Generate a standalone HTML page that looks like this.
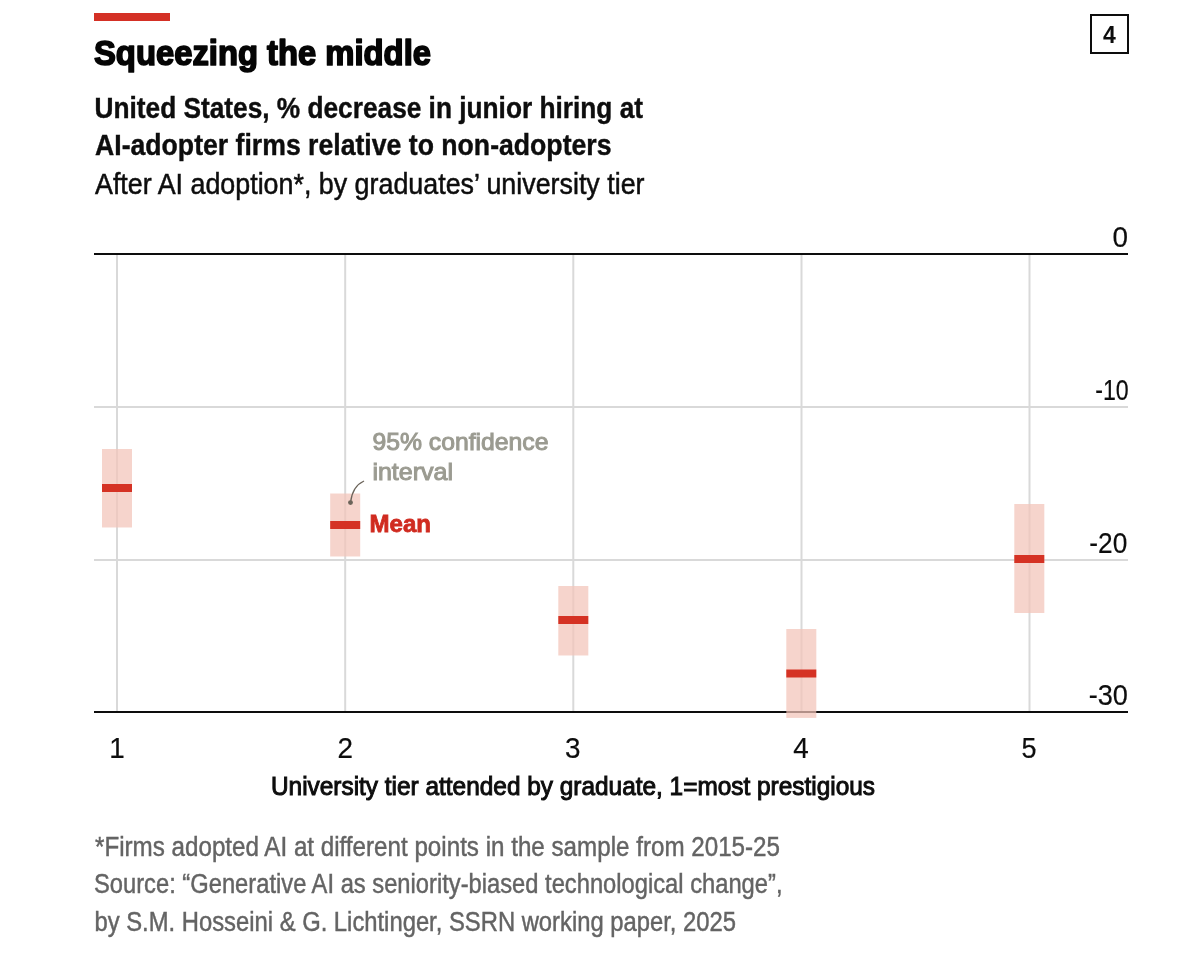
<!DOCTYPE html>
<html lang="en">
<head>
<meta charset="utf-8">
<title>Squeezing the middle</title>
<style>
  html, body { margin: 0; padding: 0; background: #ffffff; }
  body { width: 1200px; height: 965px; overflow: hidden; position: relative; }
  svg { display: block; position: absolute; left: 0; top: 0; will-change: transform; }
  text { font-family: "Liberation Sans", sans-serif; }
  .b { font-weight: 700; }
  .grid { stroke: #d9d9d9; stroke-width: 2; }
  .axis { stroke: #0d0d0d; stroke-width: 2; }
  .ci { fill: #f3c4b8; opacity: 0.72; }
  .mean { fill: #d53224; }
  .ylab { font-size: 30px; fill: #0d0d0d; stroke: #0d0d0d; stroke-width: 0.2px; text-anchor: end; }
  .xlab { font-size: 30px; fill: #0d0d0d; stroke: #0d0d0d; stroke-width: 0.2px; text-anchor: middle; }
  .foot { font-size: 27px; fill: #646464; stroke: #646464; stroke-width: 0.45px; }
</style>
</head>
<body>
<svg width="1200" height="965" viewBox="0 0 1200 965">
  <rect x="0" y="0" width="1200" height="965" fill="#ffffff"/>

  <!-- header -->
  <rect x="94" y="13" width="76" height="8" fill="#d43025"/>
  <text class="b" x="94" y="65" font-size="35" fill="#050505" stroke="#050505" stroke-width="1.7" stroke-linejoin="round" textLength="337" lengthAdjust="spacingAndGlyphs">Squeezing the middle</text>
  <text class="b" x="94.5" y="118.2" font-size="29" fill="#0d0d0d" stroke="#0d0d0d" stroke-width="0.4" textLength="548.5" lengthAdjust="spacingAndGlyphs">United States, % decrease in junior hiring at</text>
  <text class="b" x="95" y="155.3" font-size="29" fill="#0d0d0d" stroke="#0d0d0d" stroke-width="0.4" textLength="516.5" lengthAdjust="spacingAndGlyphs">AI-adopter firms relative to non-adopters</text>
  <text x="95" y="193.7" font-size="29" fill="#0d0d0d" stroke="#0d0d0d" stroke-width="0.5" textLength="549.5" lengthAdjust="spacingAndGlyphs">After AI adoption*, by graduates’ university tier</text>

  <!-- number box -->
  <rect x="1091" y="15" width="37" height="38" fill="#ffffff" stroke="#0d0d0d" stroke-width="2"/>
  <text class="b" x="1109.3" y="43" font-size="23" fill="#0d0d0d" text-anchor="middle">4</text>

  <!-- grid -->
  <line class="grid" x1="117" y1="255" x2="117" y2="712"/>
  <line class="grid" x1="345.2" y1="255" x2="345.2" y2="712"/>
  <line class="grid" x1="573.3" y1="255" x2="573.3" y2="712"/>
  <line class="grid" x1="801.5" y1="255" x2="801.5" y2="712"/>
  <line class="grid" x1="1029.5" y1="255" x2="1029.5" y2="712"/>
  <line class="grid" x1="94" y1="407" x2="1128" y2="407"/>
  <line class="grid" x1="94" y1="560" x2="1128" y2="560"/>
  <line class="axis" x1="94" y1="254" x2="1128" y2="254"/>
  <line class="axis" x1="94" y1="712" x2="1128" y2="712"/>

  <!-- y labels -->
  <text class="ylab" x="1128" y="247.3" textLength="15.5" lengthAdjust="spacingAndGlyphs">0</text>
  <text class="ylab" x="1128.7" y="400.3" textLength="33.5" lengthAdjust="spacingAndGlyphs">-10</text>
  <text class="ylab" x="1127.3" y="552.8" textLength="38" lengthAdjust="spacingAndGlyphs">-20</text>
  <text class="ylab" x="1127.9" y="705.3" textLength="39.2" lengthAdjust="spacingAndGlyphs">-30</text>

  <!-- confidence intervals + means -->
  <rect class="ci" x="102" y="449" width="30" height="78.5"/>
  <rect class="mean" x="102" y="484" width="30" height="8"/>

  <rect class="ci" x="330.2" y="493.5" width="30" height="63"/>
  <rect class="mean" x="330.2" y="521" width="30" height="8"/>

  <rect class="ci" x="558.3" y="586" width="30" height="69.5"/>
  <rect class="mean" x="558.3" y="616" width="30" height="8"/>

  <rect class="ci" x="786.3" y="629" width="30" height="88.9"/>
  <rect class="mean" x="786.3" y="669.5" width="30" height="8"/>

  <rect class="ci" x="1014.3" y="504" width="30" height="109"/>
  <rect class="mean" x="1014.3" y="555" width="30" height="8"/>

  <!-- annotation -->
  <path d="M350.5 502.6 C351.6 493 355.5 484.8 363.6 481.2" fill="none" stroke="#6b6359" stroke-width="1.25" stroke-linecap="round"/>
  <circle cx="350.5" cy="502.6" r="2.45" fill="#6b6359"/>
  <text x="372.5" y="449.6" font-size="24" fill="#9b9b91" stroke="#9b9b91" stroke-width="1" textLength="176" lengthAdjust="spacingAndGlyphs">95% confidence</text>
  <text x="372.4" y="480.3" font-size="24" fill="#9b9b91" stroke="#9b9b91" stroke-width="1" textLength="80.6" lengthAdjust="spacingAndGlyphs">interval</text>
  <text class="b" x="369.5" y="532.2" font-size="24.5" fill="#d02b20" stroke="#d02b20" stroke-width="0.8" textLength="61.5" lengthAdjust="spacingAndGlyphs">Mean</text>

  <!-- x labels -->
  <text class="xlab" x="117" y="758" textLength="15.5" lengthAdjust="spacingAndGlyphs">1</text>
  <text class="xlab" x="345.2" y="758" textLength="15.5" lengthAdjust="spacingAndGlyphs">2</text>
  <text class="xlab" x="572.7" y="758" textLength="15.5" lengthAdjust="spacingAndGlyphs">3</text>
  <text class="xlab" x="800.9" y="758" textLength="15.5" lengthAdjust="spacingAndGlyphs">4</text>
  <text class="xlab" x="1029.1" y="758" textLength="15" lengthAdjust="spacingAndGlyphs">5</text>
  <text x="271" y="795" font-size="26" fill="#0d0d0d" stroke="#0d0d0d" stroke-width="1" textLength="604" lengthAdjust="spacingAndGlyphs">University tier attended by graduate, 1=most prestigious</text>

  <!-- footnotes -->
  <text class="foot" x="95" y="855.6" textLength="685" lengthAdjust="spacingAndGlyphs">*Firms adopted AI at different points in the sample from 2015-25</text>
  <text class="foot" x="94" y="893" textLength="688.5" lengthAdjust="spacingAndGlyphs">Source: “Generative AI as seniority-biased technological change”,</text>
  <text class="foot" x="94.5" y="930.6" textLength="641.5" lengthAdjust="spacingAndGlyphs">by S.M. Hosseini &amp; G. Lichtinger, SSRN working paper, 2025</text>
</svg>
</body>
</html>
